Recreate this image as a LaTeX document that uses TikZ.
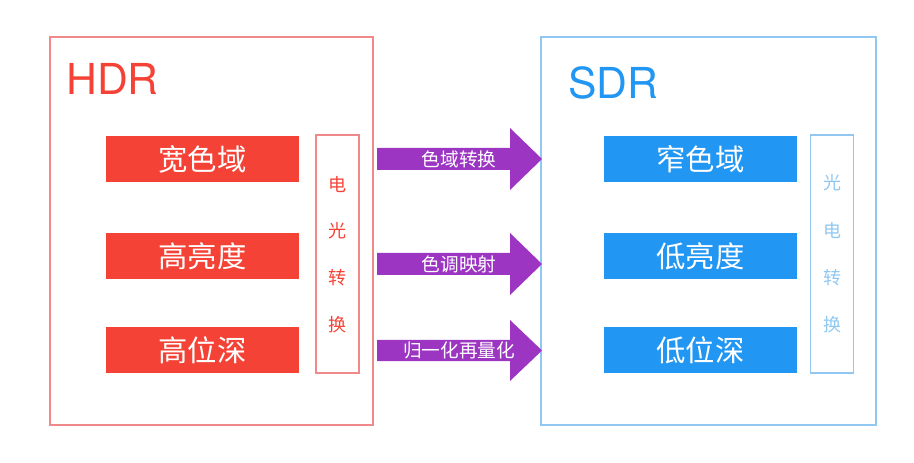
\documentclass[tikz,border=0pt]{standalone}
\usepackage{fontspec}
\setmainfont{Noto Sans CJK SC}
\newfontfamily\titlefont{TeX Gyre Heros}
\definecolor{hdrred}{HTML}{F44336}
\definecolor{hdrline}{HTML}{F08A8A}
\definecolor{sdrblue}{HTML}{2196F3}
\definecolor{sdrline}{HTML}{90C8F2}
\definecolor{mappurple}{HTML}{9B35C2}

\begin{document}
\begin{tikzpicture}[x=0.75pt,y=-0.75pt,
  redbox/.style={fill=hdrred,text=white,minimum width=144.75pt,minimum height=34.5pt,inner sep=0pt,font=\fontsize{22}{24}\selectfont},
  bluebox/.style={redbox,fill=sdrblue},
  sidebox/.style={draw,line width=1.1pt,minimum width=32.25pt,minimum height=178.5pt,inner sep=0pt},
  sidechar/.style={font=\fontsize{13.5}{15}\selectfont,inner sep=0pt},
  maptext/.style={text=white,font=\fontsize{14}{16}\selectfont,inner sep=0pt},
  title/.style={anchor=west,font=\titlefont\fontsize{32}{36}\selectfont,inner sep=0pt}]
  \useasboundingbox (0,0) rectangle (914,463);

  % HDR side
  \draw[hdrline,line width=1.1pt] (50,37) rectangle (373,425);
  \node[title,text=hdrred] (hdr) at (66,79) {HDR};
  \node[redbox](widegamut)  at (202.5,159) {宽色域};
  \node[redbox](highlum)    at (202.5,256) {高亮度};
  \node[redbox](highdepth)  at (202.5,350) {高位深};
  \node[sidebox,draw=hdrline](eotf) at (337.5,254) {};
  \node[sidechar,text=hdrred](eotf1) at (337.5,185) {电};
  \node[sidechar,text=hdrred](eotf2) at (337.5,231) {光};
  \node[sidechar,text=hdrred](eotf3) at (337.5,278) {转};
  \node[sidechar,text=hdrred](eotf4) at (337.5,325) {换};

  % SDR side
  \draw[sdrline,line width=1.1pt] (541,37) rectangle (876,425);
  \node[title,text=sdrblue] (sdr) at (568,83) {SDR};
  \node[bluebox](narrowgamut) at (700.5,159) {窄色域};
  \node[bluebox](lowlum)      at (700.5,256) {低亮度};
  \node[bluebox](lowdepth)    at (700.5,350) {低位深};
  \node[sidebox,draw=sdrline](oetf) at (832,254) {};
  \node[sidechar,text=sdrline](oetf1) at (832,183) {光};
  \node[sidechar,text=sdrline](oetf2) at (832,231) {电};
  \node[sidechar,text=sdrline](oetf3) at (832,278) {转};
  \node[sidechar,text=sdrline](oetf4) at (832,325) {换};

  % arrows
  \fill[mappurple] (377,148) -- (510,148) -- (510,128) -- (542,159) -- (510,190) -- (510,170) -- (377,170) -- cycle;
  \fill[mappurple] (377,253) -- (510,253) -- (510,233) -- (542,264) -- (510,295) -- (510,275) -- (377,275) -- cycle;
  \fill[mappurple] (377,340) -- (510,340) -- (510,320) -- (542,350.5) -- (510,381) -- (510,361) -- (377,361) -- cycle;
  \node[maptext](gamutmap)  at (459,159) {色域转换};
  \node[maptext](tonemap)   at (459,264) {色调映射};
  \node[maptext](requant)   at (459,350.5) {归一化再量化};
\end{tikzpicture}
\end{document}
